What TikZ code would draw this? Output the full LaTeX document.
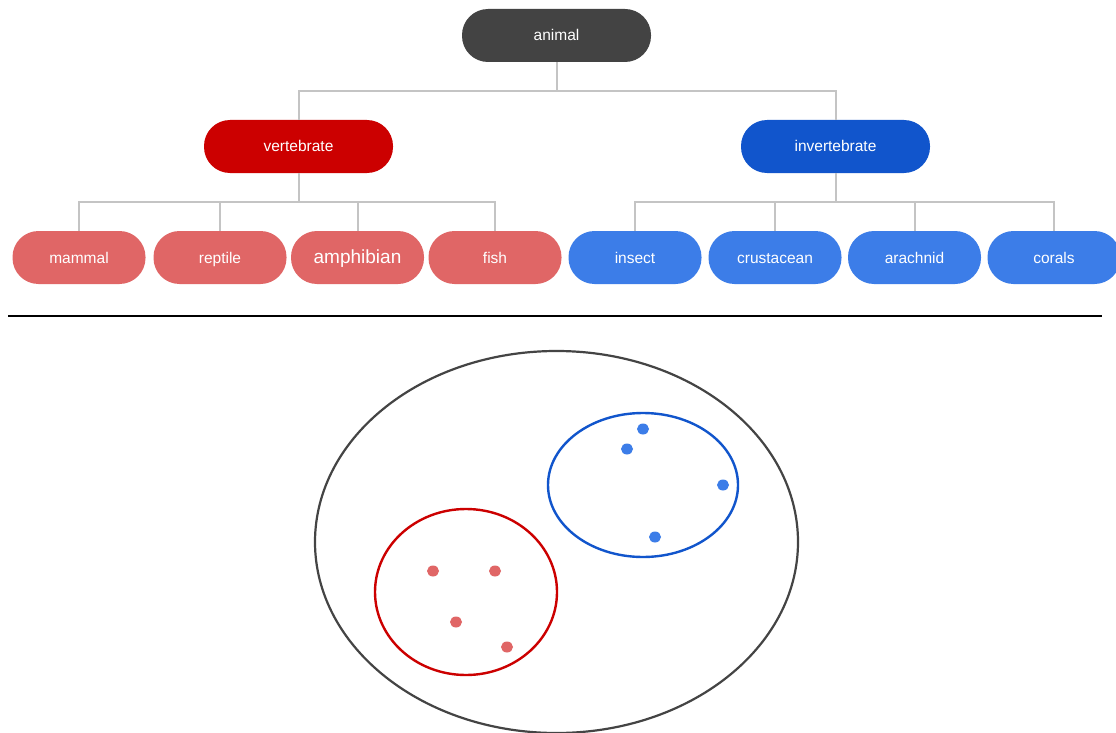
\documentclass[tikz,border=0pt]{standalone}
\usepackage{fontspec}
\setmainfont{Liberation Sans}
\usetikzlibrary{shapes.geometric}
\definecolor{darkbox}{HTML}{434343}
\definecolor{vred}{HTML}{CC0000}
\definecolor{iblue}{HTML}{1155CC}
\definecolor{lred}{HTML}{E06666}
\definecolor{lblue}{HTML}{3C7DE8}
\definecolor{conn}{HTML}{C4C4C4}
\definecolor{outer}{HTML}{444444}
\begin{document}
\begin{tikzpicture}[x=1pt,y=-1pt,
  pill/.style={rectangle,rounded corners=26pt,minimum width=189pt,minimum height=53pt,inner sep=0pt,text=white,font=\fontsize{15.5}{18}\selectfont,text height=11pt,text depth=0pt},
  leaf/.style={pill,minimum width=133pt},
  link/.style={draw=conn,line width=2pt},
  dot/.style={ellipse,minimum width=12pt,minimum height=11pt,inner sep=0pt}
]
\clip (0,0) rectangle (1116,733);
\fill[white] (0,0) rectangle (1116,733);

\node[pill,fill=darkbox] (animal) at (556.5,35.5) {animal};
\node[pill,fill=vred] (vert) at (298.5,146.5) {vertebrate};
\node[pill,fill=iblue] (invert) at (835.5,146.5) {invertebrate};

\node[leaf,fill=lred] (mammal) at (79,257.5) {mammal};
\node[leaf,fill=lred] (reptile) at (220,257.5) {reptile};
\node[leaf,fill=lred,font=\fontsize{19}{22}\selectfont,text height=12pt] (amph) at (357.5,257.5) {amphibian};
\node[leaf,fill=lred] (fish) at (495,257.5) {fish};
\node[leaf,fill=lblue] (insect) at (635,257.5) {insect};
\node[leaf,fill=lblue] (crust) at (775,257.5) {crustacean};
\node[leaf,fill=lblue] (arach) at (914.5,257.5) {arachnid};
\node[leaf,fill=lblue] (corals) at (1054,257.5) {corals};

% connectors
\draw[link] (animal.south) -- ++(0,29) coordinate (a1);
\draw[link] (vert.north) |- (a1) -| (invert.north);
\draw[link] (vert.south) -- ++(0,29) coordinate (v1);
\draw[link] (mammal.north) |- (v1) -| (fish.north);
\draw[link] (reptile.north) -- (reptile.north |- v1);
\draw[link] (amph.north) -- (amph.north |- v1);
\draw[link] (invert.south) -- ++(0,29) coordinate (i1);
\draw[link] (insect.north) |- (i1) -| (corals.north);
\draw[link] (crust.north) -- (crust.north |- i1);
\draw[link] (arach.north) -- (arach.north |- i1);

% separator
\coordinate (s1) at (8,316);
\coordinate (s2) at (1102,316);
\draw[black,line width=2pt] (s1) -- (s2);

% set diagram
\draw[outer,line width=2.2pt] (556.5,542) ellipse [x radius=241.5,y radius=191];
\draw[iblue,line width=2.4pt] (643,485) ellipse [x radius=95,y radius=72];
\draw[vred,line width=2.4pt] (466,592) ellipse [x radius=91,y radius=83];

\node[dot,fill=lblue] (b1) at (643,429) {};
\node[dot,fill=lblue] (b2) at (627,449) {};
\node[dot,fill=lblue] (b3) at (723,485) {};
\node[dot,fill=lblue] (b4) at (655,537) {};
\node[dot,fill=lred] (r1) at (433,571) {};
\node[dot,fill=lred] (r2) at (495,571) {};
\node[dot,fill=lred] (r3) at (456,622) {};
\node[dot,fill=lred] (r4) at (507,647) {};
\end{tikzpicture}
\end{document}
